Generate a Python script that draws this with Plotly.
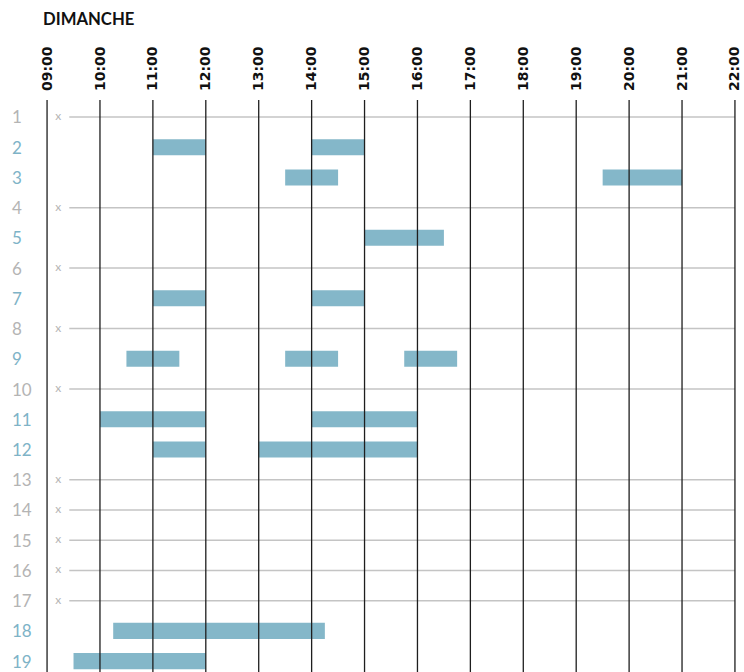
import plotly.graph_objects as go

# Hour grid (top axis)
hours = list(range(9, 23))
hour_labels = [f"{h:02d}:00" for h in hours]

# Rows of the schedule
rows = list(range(1, 20))

# Occupied slots: row number, start and end time (decimal hours)
slot_rows = [2, 2, 3, 3, 5, 7, 7, 9, 9, 9, 11, 11, 12, 12, 18, 19]
slot_start = [11, 14, 13.5, 19.5, 15, 11, 14, 10.5, 13.5, 15.75, 10, 14, 11, 13, 10.25, 9.5]
slot_end = [12, 15, 14.5, 21, 16.5, 12, 15, 11.5, 14.5, 16.75, 12, 16, 12, 16, 14.25, 12]

BAR_COLOR = "#84b7c9"
BUSY_LABEL = "#7eb3c7"
FREE_LABEL = "#b4b4b4"
FREE_LINE = "#c4c4c4"
GRID = "#1e1e1e"

busy_rows = set(slot_rows)
free_rows = [r for r in rows if r not in busy_rows]

fig = go.Figure()

# Thin grey line across each free row
line_x, line_y = [], []
for r in free_rows:
    line_x += [9.42, hours[-1], None]
    line_y += [r, r, None]
fig.add_trace(go.Scatter(
    x=line_x, y=line_y, mode="lines",
    line=dict(color=FREE_LINE, width=1.5),
    hoverinfo="skip", showlegend=False,
))

# Small "x" marker at the start of each free row
fig.add_trace(go.Scatter(
    x=[9.21] * len(free_rows), y=free_rows, mode="text",
    text=["x"] * len(free_rows),
    textfont=dict(family="Lato", size=12, color=FREE_LABEL),
    hoverinfo="skip", showlegend=False,
))

# Occupied time slots
fig.add_trace(go.Bar(
    orientation="h",
    y=slot_rows,
    base=slot_start,
    x=[e - s for s, e in zip(slot_start, slot_end)],
    width=0.53,
    marker=dict(color=BAR_COLOR, line=dict(width=0)),
    hoverinfo="skip", showlegend=False,
))

# Vertical hour lines drawn over the bars
for h in hours:
    fig.add_shape(
        type="line", xref="x", yref="paper",
        x0=h, x1=h, y0=0, y1=1,
        line=dict(color=GRID, width=1.3),
        layer="above",
    )

# Row numbers on the left
for r in rows:
    fig.add_annotation(
        xref="paper", yref="y", x=-0.0525, y=r,
        xanchor="left", yanchor="middle",
        text=str(r), showarrow=False,
        font=dict(family="Lato", size=17,
                  color=BUSY_LABEL if r in busy_rows else FREE_LABEL),
    )

fig.update_layout(
    width=744, height=672,
    margin=dict(l=46, r=8, t=100, b=0),
    plot_bgcolor="white", paper_bgcolor="white",
    barmode="overlay",
    title=dict(
        text="DIMANCHE",
        xref="container", yref="container",
        x=43 / 744, y=1 - 19 / 672,
        xanchor="left", yanchor="middle",
        font=dict(family="Lato", size=16.7, color="#111111", weight="bold"),
    ),
    xaxis=dict(
        side="top",
        range=[8.98, 22.02],
        tickmode="array", tickvals=hours, ticktext=hour_labels,
        tickangle=-90,
        tickfont=dict(family="DejaVu Sans", size=14, color="#111111", weight="bold"),
        ticks="", ticklabelstandoff=8,
        showgrid=False, zeroline=False, showline=False,
    ),
    yaxis=dict(
        range=[19.36, 0.44],
        showticklabels=False, showgrid=False, zeroline=False, showline=False,
    ),
)

fig.write_html("out.html")
